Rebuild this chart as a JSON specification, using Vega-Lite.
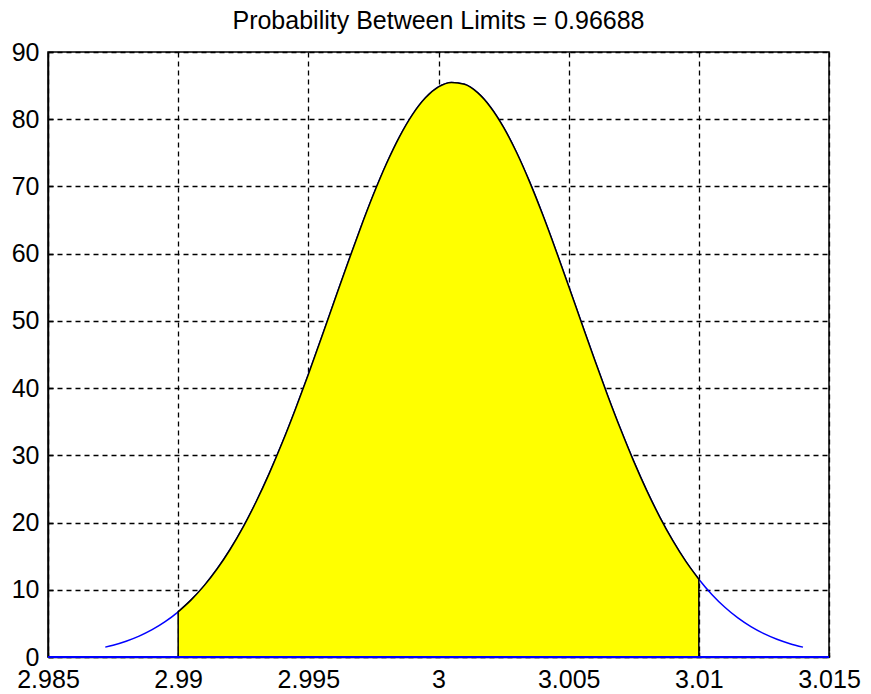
{
  "$schema": "https://vega.github.io/schema/vega-lite/v6.json",
  "autosize": {"type": "none"},
  "padding": {"left": 48, "top": 52, "right": 42, "bottom": 37},
  "width": 781,
  "height": 605,
  "background": "white",
  "title": {
    "text": "Probability Between Limits = 0.96688",
    "font": "Liberation Sans",
    "fontSize": 25,
    "fontWeight": "normal",
    "color": "black",
    "anchor": "middle",
    "offset": 6
  },
  "config": {
    "view": {"stroke": "black", "strokeWidth": 1.5},
    "axis": {
      "domainColor": "black",
      "domainWidth": 1.5,
      "tickColor": "black",
      "tickWidth": 1.5,
      "tickSize": -5,
      "gridColor": "black",
      "gridOpacity": 1,
      "gridWidth": 1.3,
      "gridDash": [5, 4],
      "labelColor": "black",
      "labelFont": "Liberation Sans",
      "labelFontSize": 25,
      "title": null
    }
  },
  "data": {
    "values": [
      {"x": 2.9872, "y": 1.468},
      {"x": 2.9875, "y": 1.758},
      {"x": 2.988, "y": 2.351},
      {"x": 2.9885, "y": 3.110},
      {"x": 2.989, "y": 4.067},
      {"x": 2.9895, "y": 5.258},
      {"x": 2.99, "y": 6.722},
      {"x": 2.9905, "y": 8.496},
      {"x": 2.991, "y": 10.62},
      {"x": 2.9915, "y": 13.12},
      {"x": 2.992, "y": 16.03},
      {"x": 2.9925, "y": 19.36},
      {"x": 2.993, "y": 23.13},
      {"x": 2.9935, "y": 27.32},
      {"x": 2.994, "y": 31.90},
      {"x": 2.9945, "y": 36.83},
      {"x": 2.995, "y": 42.04},
      {"x": 2.9955, "y": 47.45},
      {"x": 2.996, "y": 52.96},
      {"x": 2.9965, "y": 58.44},
      {"x": 2.997, "y": 63.76},
      {"x": 2.9975, "y": 68.79},
      {"x": 2.998, "y": 73.37},
      {"x": 2.9985, "y": 77.38},
      {"x": 2.999, "y": 80.69},
      {"x": 2.9995, "y": 83.19},
      {"x": 3.0, "y": 84.81},
      {"x": 3.0005, "y": 85.48},
      {"x": 3.001, "y": 85.19},
      {"x": 3.0015, "y": 83.95},
      {"x": 3.002, "y": 81.79},
      {"x": 3.0025, "y": 78.79},
      {"x": 3.003, "y": 75.05},
      {"x": 3.0035, "y": 70.68},
      {"x": 3.004, "y": 65.82},
      {"x": 3.0045, "y": 60.60},
      {"x": 3.005, "y": 55.16},
      {"x": 3.0055, "y": 49.65},
      {"x": 3.006, "y": 44.19},
      {"x": 3.0065, "y": 38.88},
      {"x": 3.007, "y": 33.83},
      {"x": 3.0075, "y": 29.10},
      {"x": 3.008, "y": 24.75},
      {"x": 3.0085, "y": 20.82},
      {"x": 3.009, "y": 17.31},
      {"x": 3.0095, "y": 14.23},
      {"x": 3.01, "y": 11.57},
      {"x": 3.0105, "y": 9.304},
      {"x": 3.011, "y": 7.392},
      {"x": 3.0115, "y": 5.809},
      {"x": 3.012, "y": 4.513},
      {"x": 3.0125, "y": 3.467},
      {"x": 3.013, "y": 2.633},
      {"x": 3.0135, "y": 1.978},
      {"x": 3.014, "y": 1.468}
    ]
  },
  "encoding": {
    "x": {
      "field": "x",
      "type": "quantitative",
      "scale": {"domain": [2.985, 3.015], "nice": false, "zero": false},
      "axis": {
        "values": [2.985, 2.99, 2.995, 3.0, 3.005, 3.01, 3.015],
        "format": ".3~f",
        "labelPadding": 15,
        "labelFlush": false,
        "labelOverlap": false
      }
    },
    "y": {
      "field": "y",
      "type": "quantitative",
      "scale": {"domain": [0, 90], "nice": false, "zero": true},
      "axis": {
        "values": [0, 10, 20, 30, 40, 50, 60, 70, 80, 90],
        "labelPadding": 14,
        "labelFlush": false,
        "labelOverlap": false
      }
    }
  },
  "layer": [
    {
      "mark": {"type": "line", "color": "#0000ff", "strokeWidth": 1.5, "interpolate": "monotone"}
    },
    {
      "transform": [{"filter": "datum.x >= 2.99 && datum.x <= 3.01"}],
      "mark": {"type": "area", "fill": "#ffff00", "fillOpacity": 1, "stroke": "black", "strokeWidth": 1.5, "interpolate": "monotone"}
    },
    {
      "data": {"values": [{"base": 0}]},
      "mark": {"type": "rule", "color": "#0000ff", "strokeWidth": 2},
      "encoding": {
        "x": null,
        "y": {"field": "base", "type": "quantitative"}
      }
    }
  ]
}
